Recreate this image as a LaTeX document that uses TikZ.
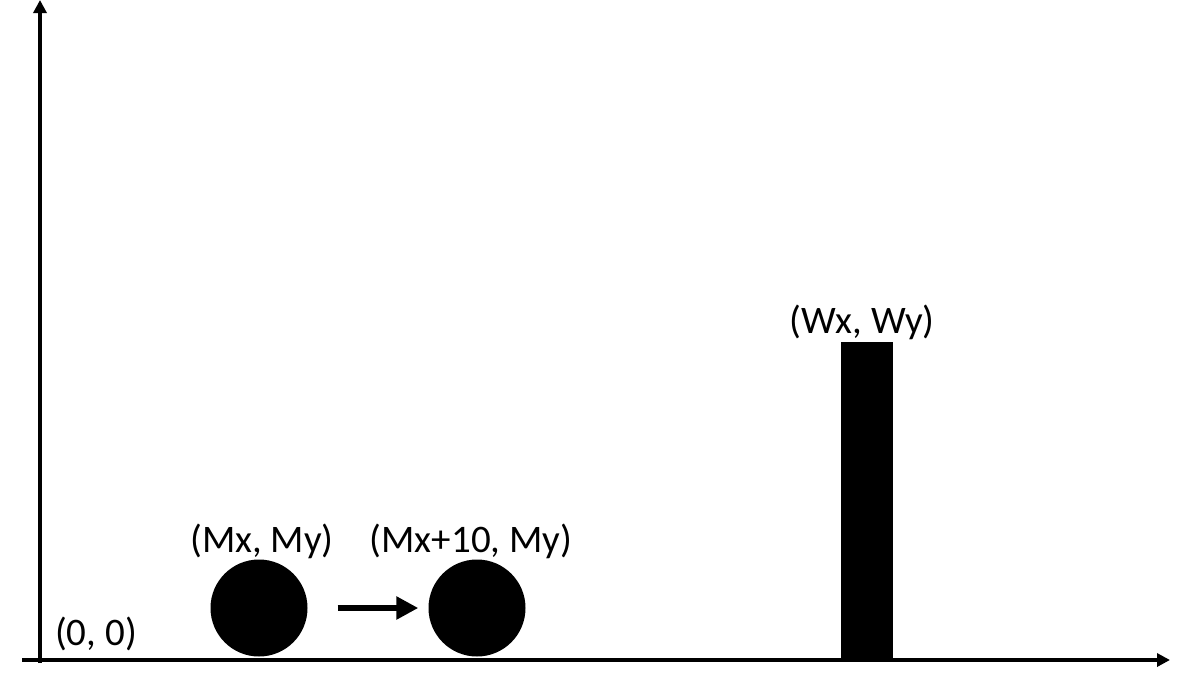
\documentclass[tikz,border=0pt]{standalone}
\usepackage{fontspec}
\setmainfont{Carlito}
\usetikzlibrary{arrows.meta}
\begin{document}
\begin{tikzpicture}[x=1pt,y=-1pt,
  axis/.style={line width=3.5pt,-{Triangle[length=13pt,width=13pt]}},
  ball/.style={circle,fill=black,inner sep=0pt,minimum size=97pt},
  lbl/.style={font=\fontsize{39}{47}\selectfont,inner sep=0pt,anchor=base},
  movearrow/.style={line width=6pt,-{Triangle[length=22pt,width=22pt]}}]
\useasboundingbox (0,0) rectangle (1200,675);
\coordinate (o) at (40,660);
\coordinate (ytop) at (40,0);
\coordinate (xstart) at (22,660);
\coordinate (xend) at (1170,660);
\coordinate (ybot) at (40,663);
\draw[axis] (ybot) -- (ytop);
\draw[axis] (xstart) -- (xend);
\node[ball] (m1) at (259,608) {};
\node[ball] (m2) at (477,608) {};
\draw[movearrow] ([xshift=30pt]m1.east) -- ([xshift=-10pt]m2.west);
\node[fill=black,inner sep=0pt,minimum width=52pt,minimum height=318pt] (wall) at (867,501) {};
\node[lbl] (l0) at (96,645) {(0, 0)};
\node[lbl] (lm1) at (262,552) {(Mx, My)};
\node[lbl] (lm2) at (471,552) {(Mx+10, My)};
\node[lbl] (lw) at (862,333) {(Wx, Wy)};
\end{tikzpicture}
\end{document}
